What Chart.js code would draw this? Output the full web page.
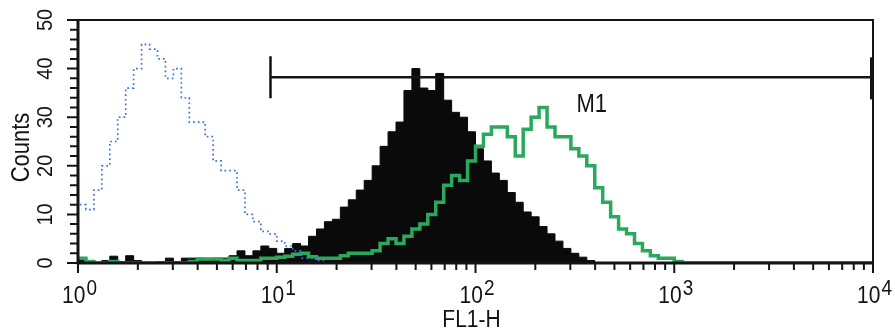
<!DOCTYPE html>
<html>
<head>
<meta charset="utf-8">
<script src="https://cdn.jsdelivr.net/npm/chart.js@4"></script>
<style>
  html, body { margin: 0; padding: 0; background: #fff; }
  #wrap { width: 895px; height: 334px; position: relative; }
</style>
</head>
<body>
<div id="wrap"><canvas id="myChart"></canvas></div>
<script>
// FL1-H histogram, channels grouped 25 per decade, 10^0 .. 10^4
const binsPerDecade = 25;

// isotype control (blue dotted); first channel is off scale
const isotypeFirstChannel = 60;
const isotypeCounts = [
  12, 11, 15, 20, 25, 30, 36, 40, 45, 44,
  42, 38, 40, 34, 29, 29, 26, 21, 19, 19,
  15, 10, 8.5, 6.5, 6, 4.5, 3.5, 2.5, 1, 1,
  0.5, 0, 0, 0, 0, 0, 0, 0, 0, 0,
  0, 0, 0, 0, 0, 0, 0, 0, 0, 0,
  0, 0, 0, 0, 0, 0, 0, 0, 0, 0,
  0, 0, 0, 0, 0, 0, 0, 0, 0, 0,
  0, 0, 0, 0, 0, 0, 0, 0, 0, 0,
  0, 0, 0, 0, 0, 0, 0, 0, 0, 0,
  0, 0, 0, 0, 0, 0, 0, 0, 0, 0
];

// filled black histogram
const stainedCounts = [
  0.5, 0, 0, 0.5, 1.4, 0.3, 1.5, 0.5, 0, 0,
  0.3, 1, 0.3, 1, 1, 1, 0.5, 1, 1, 1.5,
  2.5, 1.5, 2.5, 3.5, 3, 2, 3, 4, 3.5, 5.5,
  7, 8.5, 9, 11.5, 13, 15, 17, 20, 24, 27,
  29, 35.5, 40, 36, 35.5, 39, 33.5, 31, 30, 27,
  23.5, 21, 18.5, 17, 14.5, 12.5, 10.5, 9.5, 7.5, 6,
  4.5, 3, 2, 1.2, 0.5, 0, 0, 0, 0, 0,
  0, 0, 0, 0, 0, 0, 0, 0, 0, 0,
  0, 0, 0, 0, 0, 0, 0, 0, 0, 0,
  0, 0, 0, 0, 0, 0, 0, 0, 0, 0
];

// green histogram
const greenCounts = [
  1, 0.3, 0, 0, 0.3, 0, 0, 0, 0, 0,
  0, 0, 0, 0, 0.3, 0.8, 0.8, 0.8, 0.5, 1,
  0.5, 0.5, 0.5, 1, 1, 1.2, 1.4, 1.8, 2, 1.3,
  1, 1, 1, 1.5, 2, 2, 2, 2.5, 4, 5,
  4, 5.5, 7, 8, 10, 12.5, 16, 18, 17, 21,
  24, 26.5, 28, 28, 26, 22, 27.5, 30, 32, 28,
  26, 26, 23.5, 22, 20, 15.5, 12.5, 9.5, 7, 6,
  4, 2.5, 1.5, 1, 1, 0.3, 0, 0, 0, 0,
  0, 0, 0, 0, 0, 0, 0, 0, 0, 0,
  0, 0, 0, 0, 0, 0, 0, 0, 0, 0
];

const xTickExponents = [0, 1, 2, 3, 4];
const yTickLabels = [0, 10, 20, 30, 40, 50];
const yMinorStep = 2;

const markerName = 'M1';
const markerRange = [9.3, 10000];
const markerLevel = 38.2;

const xTitle = 'FL1-H';
const yTitle = 'Counts';

// bin left edges -> {x, y}, plus a closing point at the right edge
function toSteps(counts) {
  const pts = counts.map((c, i) => ({ x: Math.pow(10, i / binsPerDecade), y: c }));
  pts.push({ x: Math.pow(10, counts.length / binsPerDecade), y: counts[counts.length - 1] });
  return pts;
}

const FONT = '"Liberation Sans", Arial, sans-serif';
const STRETCH = 1.14; // the source lettering is a bit taller than Liberation Sans

// text with a slight vertical stretch, at (x, y)
function tallText(ctx, str, x, y, size, rot) {
  ctx.save();
  ctx.font = size + 'px ' + FONT;
  ctx.translate(x, y);
  if (rot) ctx.rotate(rot);
  ctx.scale(1, STRETCH);
  ctx.fillText(str, 0, 0);
  ctx.restore();
}

const framePlugin = {
  id: 'frame',
  afterDatasetsDraw(chart) {
    const { ctx, chartArea: a, scales: { x, y } } = chart;
    ctx.save();
    ctx.strokeStyle = '#141414';
    ctx.fillStyle = '#141414';

    // box
    ctx.lineWidth = 2;
    ctx.strokeRect(a.left, a.top, a.right - a.left, a.bottom - a.top);
    ctx.lineWidth = 3;
    ctx.beginPath();
    ctx.moveTo(a.left, a.top);
    ctx.lineTo(a.left, a.bottom);
    ctx.lineTo(a.right, a.bottom);
    ctx.stroke();

    // y ticks
    ctx.lineWidth = 2;
    ctx.beginPath();
    for (let v = 0; v <= 50; v += yMinorStep) {
      const py = y.getPixelForValue(v);
      const len = v % 10 === 0 ? 11 : 8;
      ctx.moveTo(a.left - len, py);
      ctx.lineTo(a.left, py);
    }
    ctx.stroke();

    // x ticks
    ctx.beginPath();
    for (let e = 0; e < 4; e++) {
      for (let m = 1; m < 10; m++) {
        const px = x.getPixelForValue(m * Math.pow(10, e));
        const len = m === 1 ? 10 : 7;
        ctx.moveTo(px, a.bottom);
        ctx.lineTo(px, a.bottom + len);
      }
    }
    const pEnd = x.getPixelForValue(10000);
    ctx.moveTo(pEnd, a.bottom);
    ctx.lineTo(pEnd, a.bottom + 10);
    ctx.stroke();

    // y labels, rotated
    ctx.textAlign = 'center';
    ctx.textBaseline = 'middle';
    yTickLabels.forEach(v => {
      tallText(ctx, String(v), a.left - 32, y.getPixelForValue(v), 20, -Math.PI / 2);
    });

    // y title
    tallText(ctx, yTitle, 22, (a.top + a.bottom) / 2 + 6, 22, -Math.PI / 2);

    // x labels 10^n
    ctx.textAlign = 'left';
    ctx.textBaseline = 'alphabetic';
    xTickExponents.forEach(e => {
      const px = x.getPixelForValue(Math.pow(10, e));
      ctx.font = '21px ' + FONT;
      const wBase = ctx.measureText('10').width;
      ctx.font = '19px ' + FONT;
      const wExp = ctx.measureText(String(e)).width;
      const start = px + 1 - (wBase + wExp) / 2;
      tallText(ctx, '10', start, a.bottom + 40, 21);
      tallText(ctx, String(e), start + wBase + 1, a.bottom + 32, 19);
    });

    // x title
    ctx.textAlign = 'center';
    tallText(ctx, xTitle, x.getPixelForValue(100) - 4, a.bottom + 64, 21);

    // marker M1
    const mx0 = x.getPixelForValue(markerRange[0]);
    const mx1 = x.getPixelForValue(markerRange[1]);
    const my = y.getPixelForValue(markerLevel);
    ctx.lineWidth = 2.5;
    ctx.beginPath();
    ctx.moveTo(mx0, my);
    ctx.lineTo(mx1, my);
    ctx.moveTo(mx0, my - 21);
    ctx.lineTo(mx0, my + 21);
    ctx.stroke();
    ctx.lineWidth = 4;
    ctx.beginPath();
    ctx.moveTo(mx1 - 1, my - 20);
    ctx.lineTo(mx1 - 1, my + 22);
    ctx.stroke();
    ctx.textAlign = 'center';
    ctx.textBaseline = 'middle';
    tallText(ctx, markerName, (mx0 + mx1) / 2 + 20, my + 28, 22);

    ctx.restore();
  }
};

const data = {
  datasets: [
    {
      label: 'isotype',
      data: [{ x: 1, y: isotypeFirstChannel }].concat(toSteps(isotypeCounts)),
      borderColor: '#3b72d8',
      borderWidth: 1.7,
      borderDash: [1.7, 3],
      stepped: 'before',
      pointRadius: 0,
      fill: false,
      order: 0
    },
    {
      label: 'green',
      data: toSteps(greenCounts),
      borderColor: '#2aa95c',
      borderWidth: 3.5,
      stepped: 'before',
      pointRadius: 0,
      fill: false,
      order: 1
    },
    {
      label: 'stained',
      data: toSteps(stainedCounts),
      borderColor: '#0a0a0a',
      backgroundColor: '#0a0a0a',
      borderWidth: 1,
      stepped: 'before',
      pointRadius: 0,
      fill: 'origin',
      order: 2
    }
  ]
};

const config = {
  type: 'line',
  data: data,
  options: {
    responsive: true,
    maintainAspectRatio: false,
    animation: false,
    layout: { padding: { left: 78, right: 22, top: 20, bottom: 71 } },
    plugins: { legend: { display: false }, tooltip: { enabled: false } },
    scales: {
      x: {
        type: 'logarithmic',
        min: 1,
        max: 10000,
        grid: { display: false, drawTicks: false },
        border: { display: false },
        ticks: { display: false }
      },
      y: {
        type: 'linear',
        min: 0,
        max: 50,
        grid: { display: false, drawTicks: false },
        border: { display: false },
        ticks: { display: false }
      }
    }
  },
  plugins: [framePlugin]
};

const myChart = new Chart(document.getElementById('myChart'), config);
</script>
</body>
</html>
